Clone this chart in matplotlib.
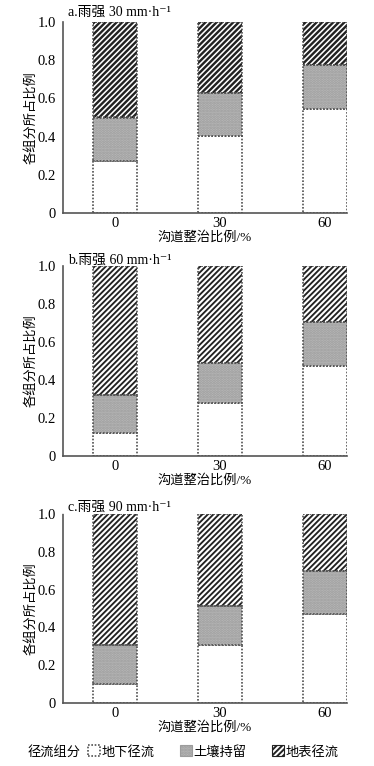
import matplotlib
matplotlib.use("Agg")
import matplotlib.pyplot as plt
from matplotlib.patches import Patch

plt.rcParams['font.family'] = ['Liberation Serif', 'DejaVu Serif', 'Noto Sans CJK SC']
plt.rcParams['hatch.linewidth'] = 1.4

categories = ['0', '30', '60']
panel_titles = ['a.雨强 30 mm·h⁻¹', 'b.雨强 60 mm·h⁻¹', 'c.雨强 90 mm·h⁻¹']
# 地下径流 (groundwater runoff)
ground = [[0.27, 0.405, 0.546],
          [0.121, 0.281, 0.474],
          [0.103, 0.308, 0.471]]
# 土壤持留 (soil retention)
soil = [[0.23, 0.223, 0.227],
        [0.20, 0.21, 0.231],
        [0.203, 0.207, 0.226]]
# 地表径流 (surface runoff)
surface = [[1 - g - s for g, s in zip(gr, so)] for gr, so in zip(ground, soil)]

series_names = ['地下径流', '土壤持留', '地表径流']
yticks = [0, 0.2, 0.4, 0.6, 0.8, 1.0]
yticklabels = ['0', '0.2', '0.4', '0.6', '0.8', '1.0']

W, H = 374, 766
fig = plt.figure(figsize=(W / 100, H / 100), dpi=100)

panels_px = [(22, 213, 12), (266, 456, 260), (514, 703, 507)]
hatch_lw = [1.7, 1.35, 1.35]
left_px, right_px = 63, 347
edge_col = '#505050'
dotted = (0, (1, 1))
soil_face = '#b8b8b8'
soil_dot = '#9c9c9c'

x = list(range(len(categories)))
bw = 0.42

for i, (top, bot, ty) in enumerate(panels_px):
    ax = fig.add_axes([left_px / W, 1 - bot / H, (right_px - left_px) / W, (bot - top) / H])
    g = ground[i]; s = soil[i]; su = surface[i]
    ax.bar(x, g, bw, color='white', edgecolor=edge_col, linewidth=1.2, linestyle=dotted, zorder=2)
    ax.bar(x, s, bw, bottom=g, color=soil_face, edgecolor=soil_dot, hatch='......', linewidth=0, zorder=2)
    ax.bar(x, s, bw, bottom=g, fill=False, edgecolor=edge_col, linewidth=1.2, linestyle=dotted, zorder=3)
    bottoms = [a + b for a, b in zip(g, s)]
    with plt.rc_context({'hatch.linewidth': hatch_lw[i]}):
        ax.bar(x, su, bw, bottom=bottoms, color='white', edgecolor='#222222', hatch='//////', linewidth=0, zorder=2)
    ax.bar(x, su, bw, bottom=bottoms, fill=False, edgecolor=edge_col, linewidth=1.2, linestyle=dotted, zorder=3)

    ax.set_xlim(-0.495, 2.21)
    ax.set_ylim(0, 1.0)
    ax.set_xticks(x)
    ax.set_xticklabels(categories, fontsize=10.5)
    ax.set_yticks(yticks)
    ax.set_yticklabels(yticklabels, fontsize=10.5)
    ax.tick_params(axis='y', length=0, pad=5)
    ax.tick_params(axis='x', length=0, pad=3)
    for sp in ['top', 'right']:
        ax.spines[sp].set_visible(False)
    for sp in ['left', 'bottom']:
        ax.spines[sp].set_color('#555555')
        ax.spines[sp].set_linestyle(dotted)
        ax.spines[sp].set_linewidth(1.2)
    ax.set_ylabel('各组分所占比例', fontsize=9.5, labelpad=0)
    ax.set_xlabel('沟道整治比例/%', fontsize=9.5, labelpad=1)
    fig.text(68 / W, 1 - ty / H, panel_titles[i], fontsize=10, va='center', ha='left')

# legend
fig.text(28 / W, 1 - 752 / H, '径流组分', fontsize=9.5, va='center', ha='left')
handles = [
    Patch(facecolor='white', edgecolor=edge_col, linestyle=dotted, linewidth=1.2),
    Patch(facecolor=soil_face, edgecolor=soil_dot, hatch='......', linewidth=0.8),
    Patch(facecolor='white', edgecolor='#222222', hatch='//////', linewidth=0.8),
]
fig.legend(handles, series_names, loc='center left', bbox_to_anchor=(88 / W, 1 - 752 / H),
           ncol=3, frameon=False, fontsize=9.5, handlelength=0.9, handleheight=0.9,
           handletextpad=0.15, columnspacing=1.9, borderaxespad=0, borderpad=0)

fig.savefig('out.png', dpi=100)
